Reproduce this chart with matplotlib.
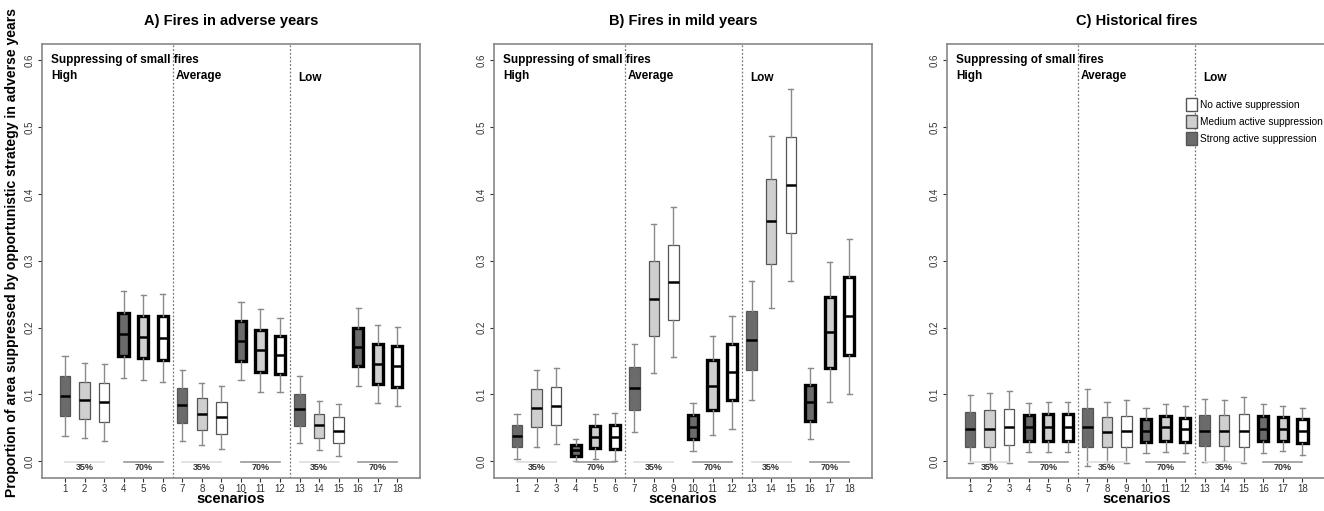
import numpy as np
import matplotlib
matplotlib.use("Agg")
import matplotlib.pyplot as plt
from matplotlib.patches import Patch

plt.rcParams['font.family'] = ['Liberation Sans', 'DejaVu Sans']

# five-number summaries: low whisker, Q1, median, Q3, high whisker
# scenarios 1..18, in groups of three: strong, medium, no active suppression
adverse_low = [0.038, 0.035, 0.030, 0.125, 0.122, 0.119, 0.030, 0.025, 0.018,
               0.121, 0.103, 0.104, 0.028, 0.017, 0.008, 0.113, 0.087, 0.082]
adverse_q1 = [0.068, 0.063, 0.059, 0.157, 0.154, 0.152, 0.057, 0.047, 0.041,
              0.150, 0.133, 0.131, 0.053, 0.035, 0.028, 0.142, 0.115, 0.111]
adverse_med = [0.098, 0.091, 0.088, 0.190, 0.186, 0.185, 0.084, 0.071, 0.066,
               0.180, 0.166, 0.159, 0.078, 0.054, 0.046, 0.171, 0.145, 0.142]
adverse_q3 = [0.127, 0.118, 0.117, 0.222, 0.217, 0.217, 0.110, 0.094, 0.089,
              0.210, 0.197, 0.187, 0.101, 0.071, 0.066, 0.200, 0.175, 0.172]
adverse_high = [0.158, 0.147, 0.146, 0.254, 0.249, 0.250, 0.137, 0.117, 0.113,
                0.239, 0.228, 0.214, 0.127, 0.090, 0.085, 0.229, 0.204, 0.201]

mild_low = [0.004, 0.022, 0.026, 0.000, 0.004, 0.001, 0.044, 0.132, 0.156,
            0.015, 0.039, 0.049, 0.092, 0.230, 0.269, 0.034, 0.088, 0.101]
mild_q1 = [0.021, 0.051, 0.055, 0.008, 0.020, 0.019, 0.077, 0.188, 0.212,
           0.033, 0.076, 0.091, 0.137, 0.295, 0.341, 0.060, 0.140, 0.159]
mild_med = [0.038, 0.080, 0.083, 0.017, 0.037, 0.037, 0.110, 0.243, 0.268,
            0.051, 0.113, 0.133, 0.181, 0.359, 0.413, 0.088, 0.194, 0.217]
mild_q3 = [0.054, 0.108, 0.111, 0.025, 0.053, 0.055, 0.141, 0.299, 0.324,
           0.069, 0.151, 0.176, 0.225, 0.423, 0.485, 0.114, 0.246, 0.276]
mild_high = [0.071, 0.137, 0.140, 0.034, 0.070, 0.072, 0.175, 0.355, 0.380,
             0.087, 0.188, 0.217, 0.270, 0.487, 0.557, 0.140, 0.298, 0.333]

hist_low = [-0.003, -0.004, -0.003, 0.014, 0.014, 0.014, -0.007, -0.001, -0.002,
            0.013, 0.014, 0.012, -0.001, 0.000, -0.003, 0.013, 0.015, 0.010]
hist_q1 = [0.022, 0.022, 0.024, 0.031, 0.031, 0.031, 0.021, 0.021, 0.021,
           0.029, 0.031, 0.029, 0.023, 0.023, 0.021, 0.030, 0.031, 0.027]
hist_med = [0.048, 0.049, 0.051, 0.051, 0.051, 0.051, 0.051, 0.044, 0.045,
            0.046, 0.051, 0.048, 0.046, 0.046, 0.046, 0.049, 0.049, 0.045]
hist_q3 = [0.073, 0.076, 0.078, 0.069, 0.070, 0.070, 0.079, 0.066, 0.068,
           0.063, 0.068, 0.065, 0.069, 0.069, 0.071, 0.067, 0.066, 0.063]
hist_high = [0.0995, 0.102, 0.105, 0.087, 0.089, 0.089, 0.108, 0.089, 0.092,
             0.079, 0.085, 0.083, 0.093, 0.092, 0.096, 0.085, 0.082, 0.080]

titles = ["A) Fires in adverse years", "B) Fires in mild years", "C) Historical fires"]
levels = ["High", "Average", "Low"]
legend_labels = ["No active suppression", "Medium active suppression",
                 "Strong active suppression"]
fills = ["#6b6b6b", "#cfcfcf", "#ffffff"]  # strong, medium, none

panels = [
    (adverse_low, adverse_q1, adverse_med, adverse_q3, adverse_high),
    (mild_low, mild_q1, mild_med, mild_q3, mild_high),
    (hist_low, hist_q1, hist_med, hist_q3, hist_high),
]

fig = plt.figure(figsize=(13.24, 5.11), dpi=100)
lefts = [0.0317, 0.3731, 0.7153]

for p, (lo, q1, med, q3, hi) in enumerate(panels):
    ax = fig.add_axes([lefts[p], 0.0646, 0.2858, 0.849])
    stats = []
    for i in range(18):
        stats.append(dict(whislo=lo[i], q1=q1[i], med=med[i], q3=q3[i],
                          whishi=hi[i], fliers=[]))
    pos = np.arange(1, 19)
    bp = ax.bxp(stats, positions=pos, widths=0.53, patch_artist=True,
                showfliers=False)
    for i in range(18):
        thick = (i // 3) % 2 == 1   # 70% groups drawn with heavy borders
        box = bp['boxes'][i]
        box.set_facecolor(fills[i % 3])
        if thick:
            box.set_edgecolor('black')
            box.set_linewidth(2.4)
        else:
            box.set_edgecolor('#555555')
            box.set_linewidth(0.9)
        bp['medians'][i].set_color('black')
        bp['medians'][i].set_linewidth(1.8)
        for w in bp['whiskers'][2 * i:2 * i + 2]:
            w.set_color('#8a8a8a')
            w.set_linewidth(1.0)
        for c in bp['caps'][2 * i:2 * i + 2]:
            c.set_color('#8a8a8a')
            c.set_linewidth(1.0)

    ax.set_xlim(-0.18, 19.18)
    ax.set_ylim(-0.025, 0.624)
    ax.set_yticks([0.0, 0.1, 0.2, 0.3, 0.4, 0.5, 0.6])
    ax.set_yticklabels(["0.0", "0.1", "0.2", "0.3", "0.4", "0.5", "0.6"],
                       rotation=90, va='center')
    ax.set_xticks(pos)
    ax.set_xticklabels([str(k) for k in pos])
    ax.tick_params(labelsize=7, colors='#333333', length=3, width=0.8)
    ax.tick_params(axis='y', pad=2)
    ax.tick_params(axis='x', pad=1)
    for s in ax.spines.values():
        s.set_color('#888888')
        s.set_linewidth(1.2)

    ax.axvline(6.5, color='#777777', ls=(0, (1.5, 1.5)), lw=0.9)
    ax.axvline(12.5, color='#777777', ls=(0, (1.5, 1.5)), lw=0.9)

    # 35% / 70% group markers
    for g in range(3):
        x0 = g * 6
        ax.plot([x0 + 1, x0 + 3], [-0.001, -0.001], color='#dddddd', lw=1.2)
        ax.plot([x0 + 4, x0 + 6], [-0.001, -0.001], color='#999999', lw=1.2)
        ax.text(x0 + 2, -0.009, "35%", ha='center', va='center',
                fontsize=6.5, fontweight='bold', color='#333333')
        ax.text(x0 + 5, -0.009, "70%", ha='center', va='center',
                fontsize=6.5, fontweight='bold', color='#333333')

    ax.text(0.3, 0.600, "Suppressing of small fires", fontsize=8.5,
            fontweight='bold', va='center', ha='left')
    ax.text(0.3, 0.576, levels[0], fontsize=8.5, fontweight='bold', va='center')
    ax.text(6.65, 0.576, levels[1], fontsize=8.5, fontweight='bold', va='center')
    ax.text(12.95, 0.574, levels[2], fontsize=8.5, fontweight='bold', va='center')

    ax.set_title(titles[p], fontsize=10.5, fontweight='bold', pad=14)
    ax.set_xlabel("scenarios", fontsize=10.5, fontweight='bold', labelpad=-1)

    if p == 2:
        handles = [Patch(facecolor=fills[2], edgecolor='#555555'),
                   Patch(facecolor=fills[1], edgecolor='#555555'),
                   Patch(facecolor=fills[0], edgecolor='#555555')]
        ax.legend(handles, legend_labels, loc='upper left',
                  bbox_to_anchor=(0.62, 0.885), frameon=False, fontsize=7.3,
                  handlelength=1.15, handleheight=1.55, handletextpad=0.25,
                  labelspacing=0.42, borderaxespad=0)

fig.text(0.009, 0.505, "Proportion of area suppressed by opportunistic strategy in adverse years",
         rotation=90, fontsize=10.05, fontweight='bold', ha='center', va='center')

fig.savefig("out.png", dpi=100)
